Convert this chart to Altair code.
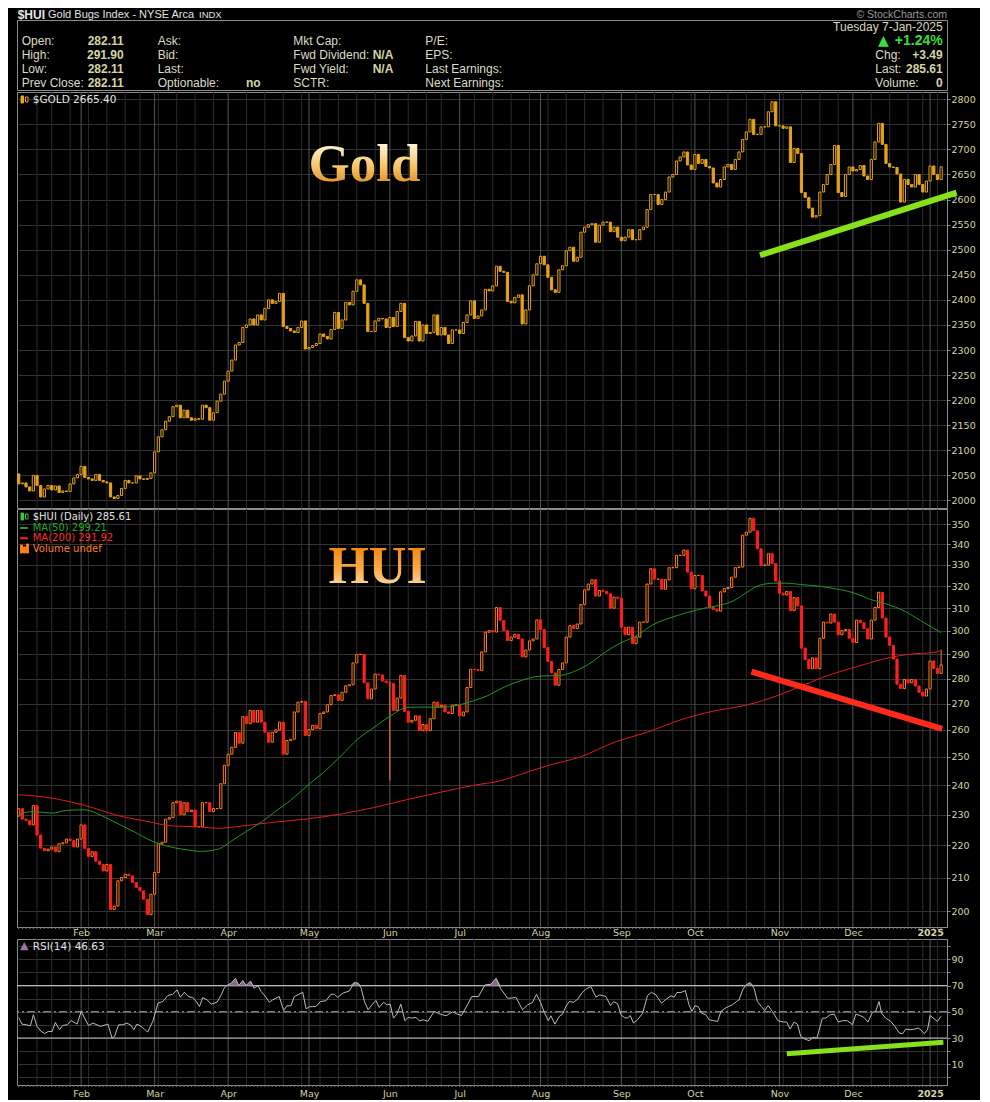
import altair as alt
import numpy as np
import pandas as pd

# ---------------------------------------------------------------- data
HOLIDAYS = ["2024-01-15", "2024-02-19", "2024-03-29", "2024-05-27", "2024-06-19",
            "2024-07-04", "2024-09-02", "2024-11-28", "2024-12-25", "2025-01-01"]
dates = pd.bdate_range("2024-01-08", "2025-01-07", freq="C", holidays=HOLIDAYS)

# $GOLD daily closes
g_jan = [2033, 2035, 2027, 2019, 2050, 2030, 2007, 2023, 2030, 2021, 2029, 2016, 2019, 2018, 2033, 2045, 2052]
g_feb = [2068, 2046, 2043, 2040, 2052, 2040, 2037, 2035, 2007, 2004, 2010, 2024, 2040, 2035, 2035, 2049, 2043, 2042, 2044, 2055]
g_mar = [2097, 2127, 2141, 2158, 2167, 2187, 2190, 2165, 2180, 2165, 2160, 2163, 2162, 2190, 2185, 2160, 2175, 2198, 2212, 2238]
g_apr = [2258, 2280, 2310, 2315, 2345, 2350, 2362, 2350, 2370, 2360, 2383, 2400, 2393, 2397, 2413, 2347, 2343, 2338, 2335, 2345, 2358, 2302]
g_may = [2305, 2309, 2313, 2332, 2327, 2322, 2341, 2375, 2343, 2360, 2395, 2390, 2417, 2440, 2430, 2393, 2337, 2337, 2358, 2363, 2362, 2345]
g_jun = [2365, 2347, 2377, 2393, 2325, 2318, 2328, 2357, 2318, 2350, 2333, 2335, 2370, 2330, 2345, 2330, 2313, 2340, 2340]
g_jul = [2333, 2355, 2370, 2398, 2363, 2368, 2380, 2421, 2418, 2428, 2467, 2457, 2455, 2397, 2394, 2405, 2410, 2352, 2380, 2428, 2450, 2472]
g_aug = [2487, 2470, 2445, 2420, 2415, 2460, 2468, 2498, 2505, 2477, 2485, 2535, 2545, 2550, 2552, 2515, 2549, 2555, 2555, 2536, 2545, 2525]
g_sep = [2518, 2525, 2540, 2520, 2520, 2540, 2545, 2580, 2610, 2610, 2590, 2600, 2615, 2645, 2650, 2677, 2685, 2695, 2669, 2660]
g_oct = [2690, 2672, 2680, 2666, 2663, 2633, 2625, 2640, 2665, 2670, 2660, 2680, 2695, 2720, 2735, 2760, 2730, 2730, 2745, 2745, 2775, 2795, 2747]
g_nov = [2747, 2742, 2745, 2674, 2702, 2692, 2614, 2604, 2583, 2565, 2568, 2615, 2630, 2650, 2670, 2708, 2614, 2606, 2650, 2665]
g_dec = [2657, 2660, 2668, 2647, 2640, 2680, 2715, 2752, 2710, 2672, 2665, 2664, 2651, 2595, 2640, 2630, 2625, 2650, 2630, 2615, 2637]
g_jan25 = [2667, 2650, 2640, 2665.40]
gold_open_first = 2053

# $HUI daily closes
h_jan = [232, 228.5, 228, 226.6, 233, 223.3, 219.1, 218.3, 218.8, 219.5, 218, 220.5, 220.8, 222, 221.5, 219.5, 222]
h_feb = [226.6, 219, 216.5, 218, 215, 214, 212, 214, 200.5, 201.5, 209, 210, 211, 210.5, 208.5, 207, 206, 203.5, 199, 205]
h_mar = [211.5, 220.5, 221, 228.5, 229, 234, 234.5, 230, 234, 231, 231.5, 226, 226, 234, 234, 231, 232, 232, 240.5, 247]
h_apr = [251, 253.5, 259, 255, 265, 262.3, 267.4, 262.9, 267.4, 262.9, 259.1, 255.4, 259.1, 260, 262.9, 251, 256, 256.5, 266.8, 270.6, 270.9, 257.9]
h_may = [260.1, 261.7, 260.4, 266.2, 266.8, 269.6, 273.2, 273.5, 271.3, 274.5, 277.1, 277.5, 286.4, 289.9, 290, 278.3, 271.9, 275.8, 281.8, 281.5, 279, 278.3]
h_jun = [278, 267.4, 272.2, 281.3, 267, 262.9, 263.6, 265.3, 259.7, 262, 259.7, 264.2, 270.6, 268.7, 269.4, 266.8, 266.2, 269.4, 269.6]
h_jul = [265.3, 266.8, 276.4, 283.8, 283.6, 283.3, 291, 299.4, 300.1, 299.5, 310.3, 304.5, 300.1, 295.8, 297.3, 298.5, 296.5, 288.9, 291.8, 295.7, 296.5, 304.8]
h_aug = [300.6, 292.8, 287, 282.3, 277.3, 283.7, 286.4, 297.3, 302.3, 301, 303, 311.7, 318.3, 321, 323, 315.5, 318, 317.6, 316.5, 310, 315, 314.5]
h_sep = [301.6, 298.3, 301.6, 294.6, 297.3, 303.8, 303.8, 321, 328.2, 323.3, 323.3, 318.6, 323, 328.7, 328.7, 334.6, 334.6, 337.2, 326.6, 318.9]
h_oct = [325, 325, 317.8, 315.5, 310.3, 309.5, 308.7, 317.4, 318.9, 319.4, 324.2, 328.7, 329, 344.5, 346, 353, 346.7, 337.8, 329.8, 330, 335.4, 330.6, 322.4]
h_nov = [316.8, 316, 317.6, 308.9, 314.8, 311, 292.6, 287.8, 284, 288.5, 284, 296.8, 303.8, 303.4, 307.4, 303.8, 298.3, 300.1, 300.6, 296.8]
h_dec = [295, 304.7, 303.5, 300.9, 296.5, 304.7, 310.3, 317.2, 305.6, 297.3, 293.8, 288, 277.7, 276, 279.6, 278.3, 279.6, 277, 274.5, 273, 275.8]
h_jan25 = [287.2, 284.1, 282.11, 285.61]
hui_open_first = 229.5
hui_wick_i = [101, 251]
hui_wick_lo = [241.6, 282.11]
hui_wick_hi = [279.0, 291.90]

# moving averages (trading-day index, value)
ma50_i = [0, 4, 9, 13, 18, 22.5, 27, 31.5, 36, 40.6, 45, 49.7, 54, 58.7, 62, 66, 69.6, 74, 78.7, 83, 87.7, 92.3,
          96.8, 101.4, 105.9, 110, 115, 119.5, 124, 127.7, 131, 135, 142, 147.5, 151, 155, 160, 164, 167.5, 173,
          176.6, 182, 187.4, 191, 194.6, 198.3, 201.9, 205.5, 209, 212.8, 218.2, 222.7, 227.3, 231.8, 236.3,
          240.9, 245.4, 251]
ma50_v = [230.2, 231, 230.5, 231.4, 231.6, 229.7, 227, 224.3, 221.5, 219.7, 218.7, 218.1, 218.7, 222, 224.5, 227.5,
          230.8, 234.8, 240, 244.5, 250.4, 256.6, 261, 265.5, 268.6, 268.7, 268.6, 269.4, 271.3, 273.2, 275.8, 278.3,
          281, 281.3, 282.8, 285.8, 291.3, 295, 297.3, 303, 305.3, 308.1, 310.3, 311.4, 313.4, 317.4, 320.6, 321.4,
          321.4, 320.8, 319.9, 318.7, 316.9, 313.9, 311.8, 308.8, 304.5, 299.21]
ma200_i = [0, 8.8, 17.9, 27, 36, 40.6, 49.7, 54.2, 60.5, 69.6, 78.7, 87.7, 96.8, 105.9, 115, 124, 131, 135, 144,
           153, 162, 171, 180.2, 189.2, 196.5, 204.6, 211.9, 220.9, 229.1, 236.3, 241.8, 249.9, 251]
ma200_v = [236.7, 235.6, 233.1, 229.7, 227.5, 226.4, 225.9, 225.5, 226.2, 227.5, 228.6, 230.2, 232.4, 235.1, 237.6,
           240.0, 241.5, 243.1, 246.9, 250.1, 255.3, 259.1, 263.8, 267.2, 269.0, 272.2, 276.4, 281.6, 285.3, 288.4,
           289.9, 291.0, 291.92]

# RSI(14) (trading-day index, value)
rsi_i = [0, 0.9, 2, 3.2, 4, 5, 6.1, 7, 8.1, 9.1, 10, 11.1, 12, 13.2, 14.3, 15.9, 17, 19, 20.2, 22.3, 24.3, 25.4,
         26.1, 27.2, 28.3, 29.5, 30.6, 31.3, 32.2, 33.3, 34.2, 35.1, 36.5, 37.9, 39.2, 40.6, 41.9, 43.1, 44, 45.1,
         46.3, 47.4, 48.3, 49.2, 50.1, 51.3, 52.4, 54, 55.1, 56, 56.9, 57.8, 59, 59.9, 61, 61.9, 63.1, 64, 65.1, 66,
         67.3, 68.2, 69.1, 70.9, 72.1, 73, 74.1, 75, 77.3, 78.2, 79.1, 80, 80.9, 82.1, 83.6, 85, 85.9, 86.8, 88.2,
         90, 91.3, 92.4, 93.2, 94.1, 95.1, 96.1, 97.2, 98.1, 99.3, 100.2, 101.1, 102, 102.9, 104, 105.1, 106,
         106.9, 108.1, 109, 110.2, 111.3, 113.1, 114.7, 116.3, 118.1, 119.4, 120.5, 122.2, 123.3, 125.1, 126.9,
         128.5, 129.9, 131.2, 133, 134.1, 135.3, 137.1, 138.5, 139.8, 140.9, 142.1, 143, 144.1, 144.8, 145.9,
         147.1, 148, 148.9, 149.8, 151, 152.1, 153.2, 154.3, 155.7, 157.1, 158, 158.9, 159.8, 161, 161.9, 163,
         163.9, 164.8, 165.7, 166.4, 167.3, 168.4, 169.8, 171.1, 172.2, 173.4, 174.9, 176.3, 177.5, 178.4, 179.1,
         180.2, 181.4, 182.4, 183.2, 184, 184.9, 185.8, 187, 187.9, 189.1, 190.2, 191.1, 192, 193.1, 194.2, 195.3,
         196, 197, 197.9, 199, 200.1, 201, 202.1, 203, 203.9, 205.1, 206.6, 208.1, 209, 209.9, 211, 211.9, 212.8,
         213.9, 215.1, 216.2, 217.2, 218.7, 219.6, 220.8, 221.9, 223, 224.1, 225.5, 226.9, 227.8, 229.1, 230,
         231.1, 232.3, 233.2, 234.1, 234.8, 235.9, 237.3, 238.4, 239.6, 240.5, 241.4, 242.6, 243.8, 244.7, 245.5,
         246.4, 247.3, 248, 249.1, 250, 251]
rsi_v = [45.7, 40.6, 40.1, 39.4, 47.7, 38.9, 35.1, 33.5, 35, 35, 41.9, 36.3, 39.6, 40.1, 43.4, 40.6, 50.3, 39.6,
         41.4, 38.9, 40.6, 30, 31.3, 40.1, 40.1, 41.4, 39.6, 36.3, 40.6, 38.9, 36.8, 34.6, 42.7, 56.6, 57.8, 62.4,
         63.4, 66.7, 61.1, 64.9, 61.4, 60.9, 57.8, 54, 60.9, 59.1, 55.8, 57.3, 62.9, 68.5, 70.5, 71.8, 75.6, 70,
         73.8, 70, 73.5, 68, 70, 65.4, 61.1, 57.3, 59.1, 61.6, 51, 54.6, 54.6, 61.6, 64.9, 52.3, 53.8, 54, 54, 57.8,
         58.4, 63.4, 63.4, 60.9, 64.2, 65.9, 72.3, 71.8, 68, 57.8, 51.5, 55.3, 58.6, 53.3, 57.3, 55.3, 55.8, 45.2,
         48.2, 55.8, 43.2, 45.7, 45.2, 45.7, 43.2, 43.9, 42.7, 50.3, 48.2, 47, 50, 48.2, 47.2, 55.8, 61.6, 61.6,
         70.5, 71, 75.6, 67.5, 60.4, 60.4, 61.1, 51.5, 55.3, 57.1, 63.4, 56.6, 49.7, 43.2, 47, 40.6, 46.5, 48.2,
         54, 57.8, 57.3, 59.6, 64.2, 67.2, 69.2, 61.1, 62.9, 62.4, 61.6, 54.8, 57.8, 56.1, 47.7, 45.7, 45.2, 47.2,
         41.4, 43.9, 49, 62.4, 64.9, 62.9, 56.6, 59.9, 62.2, 61.1, 64.7, 64.7, 66.2, 55.3, 50.3, 54.6, 54, 49,
         47.7, 43.9, 43.2, 42.7, 50.3, 52.3, 54, 55.3, 57.8, 59.1, 66.7, 70.5, 72.3, 68, 57.8, 54, 51, 54.8, 50.3,
         43.2, 42.2, 42.2, 36.8, 42.2, 40.6, 31.3, 29.2, 28, 30.5, 30, 45.2, 45.2, 47.7, 48.2, 42.2, 43.2, 43.2,
         40.1, 48.2, 47, 45.7, 42.2, 49.7, 50.3, 57.8, 49, 45.2, 42.7, 38.9, 33.8, 33.3, 36.8, 36.3, 36.8, 37.6,
         36.3, 33.3, 36.3, 47.2, 44.7, 42.7, 46.63]

# annotation trend lines (index, value) endpoints
gold_trend = {"x": [201.7], "x2": [255.2], "y": [2489], "y2": [2614]}
hui_trend = {"x": [199.4], "x2": [251.3], "y": [282.8], "y2": [260.4]}
rsi_trend = {"x": [209.0], "x2": [251.6], "y": [18.1], "y2": [26.7]}

month_labels = ["Feb", "Mar", "Apr", "May", "Jun", "Jul", "Aug", "Sep", "Oct", "Nov", "Dec", "2025"]
gold_ticks = list(range(2000, 2801, 50))
hui_ticks = list(range(200, 351, 10))
rsi_grid = list(range(0, 101, 10))

# ---------------------------------------------------------------- prep
gold_close = g_jan + g_feb + g_mar + g_apr + g_may + g_jun + g_jul + g_aug + g_sep + g_oct + g_nov + g_dec + g_jan25
hui_close = h_jan + h_feb + h_mar + h_apr + h_may + h_jun + h_jul + h_aug + h_sep + h_oct + h_nov + h_dec + h_jan25
N = len(dates)
if len(gold_close) != N or len(hui_close) != N:
    raise SystemExit(f"length mismatch {N} {len(gold_close)} {len(hui_close)}")
idx = np.arange(N)
month_idx = [i for i in range(1, N) if dates[i].month != dates[i - 1].month]
week_idx = [i for i in range(1, N)
            if dates[i].isocalendar()[1] != dates[i - 1].isocalendar()[1] and i not in month_idx]


def candles(close, open0):
    c = np.array(close, dtype=float)
    o = np.concatenate([[open0], c[:-1]])
    df = pd.DataFrame({"i": idx, "o": o, "c": c})
    df["lo"] = np.minimum(o, c)
    df["hi"] = np.maximum(o, c)
    df["x1"] = idx - 0.3
    df["x2"] = idx + 0.3
    df["up"] = c >= o
    return df


gdf = candles(gold_close, gold_open_first)
hdf = candles(hui_close, hui_open_first)
week_df = pd.DataFrame({"i": week_idx})
month_df = pd.DataFrame({"i": month_idx})
tick_df = pd.DataFrame({"i": idx})
ma50 = pd.DataFrame({"i": ma50_i, "v": ma50_v})
ma200 = pd.DataFrame({"i": ma200_i, "v": ma200_v})
rsi = pd.DataFrame({"i": rsi_i, "v": rsi_v})
rsi["top"] = np.maximum(rsi["v"], 70)
rsi["base"] = 70.0
wick = pd.DataFrame({"i": hui_wick_i, "lo": hui_wick_lo, "hi": hui_wick_hi})
dummy = pd.DataFrame({"d": [0]})

# ---------------------------------------------------------------- styles
W, HG, HH, HR, HB = 930, 416, 418, 146, 70
BG = "#000000"
GOLDC = "#e6a31c"
UPC = "#ff7c1a"
DNC = "#ff1f1f"
LBL = "#d4d4a4"
WEEKC = "#2c2c2c"
MONC = "#555555"

xs = alt.Scale(domain=[-0.45, 252.6], nice=False, zero=False)
gys = alt.Scale(domain=[1985.0, 2814.5], nice=False, zero=False)
hys = alt.Scale(type="log", domain=[195.5, 357.8], nice=False, zero=False)
rys = alt.Scale(domain=[-5.8, 105.5], nice=False, zero=False)

label_expr = " : ".join(f"datum.value == {i} ? '{n}'" for i, n in zip(month_idx, month_labels)) + " : ''"


def month_axis(pad):
    return alt.Axis(values=month_idx, labelExpr=label_expr, grid=False, ticks=False, domain=False,
                    labelPadding=pad, labelFlush=False, labelOverlap=False,
                    labelFontWeight={"condition": {"test": f"datum.value == {month_idx[-1]}", "value": "bold"},
                                     "value": "normal"})


yaxis_common = dict(orient="right", grid=True, ticks=True, tickSize=3, labelPadding=1,
                    labelOverlap=False, labelFlush=False, domain=True)
g_axis = alt.Axis(values=gold_ticks, format="d", **yaxis_common)
h_axis = alt.Axis(values=hui_ticks, format="d", **yaxis_common)
r_axis = alt.Axis(values=rsi_grid, format="d", labelExpr="datum.value % 20 == 10 ? datum.label : ''",
                  **yaxis_common)


def mkx(axis):
    return lambda f: alt.X(f, scale=xs, axis=axis, title=None)


def mky(scale, axis):
    return lambda f: alt.Y(f, scale=scale, axis=axis, title=None)


def txt(s, x, y, size=12, color="#dcdcc4", weight="normal", align="left", font="Liberation Sans",
        baseline="middle"):
    return alt.Chart(dummy).mark_text(text=s, align=align, baseline=baseline, font=font, fontSize=size,
                                      fontWeight=weight, color=color).encode(x=alt.value(x), y=alt.value(y))


def vlines(X):
    return [alt.Chart(week_df).mark_rule(color=WEEKC, strokeWidth=1).encode(x=X("i:Q")),
            alt.Chart(month_df).mark_rule(color=MONC, strokeWidth=1).encode(x=X("i:Q"))]


def candle_layers(df, X, Y, upc, dnc):
    return [
        alt.Chart(df[df["up"]]).mark_rect(fill=BG, stroke=upc, strokeWidth=1).encode(
            x=X("x1:Q"), x2="x2:Q", y=Y("lo:Q"), y2="hi:Q"),
        alt.Chart(df[~df["up"]]).mark_rect(fill=dnc, stroke=dnc, strokeWidth=1).encode(
            x=X("x1:Q"), x2="x2:Q", y=Y("lo:Q"), y2="hi:Q"),
    ]


def icon_rect(x1, x2, y1, y2, color, filled=True):
    return alt.Chart(dummy).mark_rect(fill=color if filled else BG, stroke=color, strokeWidth=1).encode(
        x=alt.value(x1), x2=alt.value(x2), y=alt.value(y1), y2=alt.value(y2))


def legend_line(y, color):
    return alt.Chart(dummy).mark_rule(color=color, strokeWidth=2).encode(
        x=alt.value(3), x2=alt.value(11), y=alt.value(y))


# ---------------------------------------------------------------- header
TY = -5.3
hdr = [
    txt("$HUI", 0.7, TY, size=12, weight="bold", color="#e6e6e6"),
    txt("Gold Bugs Index - NYSE Arca", 31, TY, size=11, color="#e2e2e2"),
    txt("INDX", 182, TY, size=9.5, color="#e2e2e2"),
    txt("\u00a9 StockCharts.com", 930, TY, size=10.5, color="#9a9a9a", align="right"),
]
rows_y = [20.8, 35.0, 49.0, 62.5]
for lab, y in zip(["Open:", "High:", "Low:", "Prev Close:"], rows_y):
    hdr.append(txt(lab, 4.7, y))
for val, y in zip(["282.11", "291.90", "282.11", "282.11"], rows_y):
    hdr.append(txt(val, 106.7, y, weight="bold", color=LBL, align="right"))
for lab, y in zip(["Ask:", "Bid:", "Last:", "Optionable:"], rows_y):
    hdr.append(txt(lab, 140.7, y))
hdr.append(txt("no", 229, rows_y[3], weight="bold", color=LBL))
for lab, y in zip(["Mkt Cap:", "Fwd Dividend:", "Fwd Yield:", "SCTR:"], rows_y):
    hdr.append(txt(lab, 276.3, y))
hdr.append(txt("N/A", 355.7, rows_y[1], weight="bold", color=LBL))
hdr.append(txt("N/A", 355.7, rows_y[2], weight="bold", color=LBL))
for lab, y in zip(["P/E:", "EPS:", "Last Earnings:", "Next Earnings:"], rows_y):
    hdr.append(txt(lab, 408.3, y))
hdr.append(txt("Tuesday  7-Jan-2025", 925.7, 6.8, color="#d8d8b8", align="right"))
hdr.append(txt("\u25b2", 866.5, rows_y[0], size=14, color="#3ddc3d", align="center", font="DejaVu Sans"))
hdr.append(txt("+1.24%", 925.7, rows_y[0], size=14, weight="bold", color="#3ddc3d", align="right"))
for lab, y in zip(["Chg:", "Last:", "Volume:"], rows_y[1:]):
    hdr.append(txt(lab, 858.3, y))
for val, y in zip(["+3.49", "285.61", "0"], rows_y[1:]):
    hdr.append(txt(val, 925.7, y, weight="bold", color=LBL, align="right"))
header = alt.layer(*hdr).properties(width=W, height=HB)

# ---------------------------------------------------------------- gold panel
GX = mkx(None)
GY = mky(gys, g_axis)
gold_grad = alt.LinearGradient(gradient="linear", x1=0, x2=0, y1=0, y2=1, stops=[
    alt.GradientStop(color="#fff6dc", offset=0.15), alt.GradientStop(color="#f6c66a", offset=0.55),
    alt.GradientStop(color="#dc8a1c", offset=0.9)])
gold_layers = vlines(GX) + candle_layers(gdf, GX, GY, GOLDC, GOLDC) + [
    alt.Chart(pd.DataFrame(gold_trend)).mark_rule(color="#86e01c", strokeWidth=6, strokeCap="butt").encode(
        x=GX("x:Q"), x2="x2:Q", y=GY("y:Q"), y2="y2:Q"),
    alt.Chart(dummy).mark_text(text="Gold", font="Liberation Serif", fontSize=53, fontWeight="bold",
                               fill=gold_grad, align="center", baseline="alphabetic").encode(
        x=alt.value(347.5), y=alt.value(89)),
    icon_rect(4, 6.5, 4, 11, GOLDC), icon_rect(8.5, 11, 5, 10, GOLDC, filled=False),
    txt("$GOLD 2665.40", 15.7, 7.7, size=10.5, color="#e4e4e4", font="DejaVu Sans"),
]
gold = alt.layer(*gold_layers).properties(width=W, height=HG)

# ---------------------------------------------------------------- HUI panel
HX = mkx(month_axis(0))
HY = mky(hys, h_axis)
hui_grad = alt.LinearGradient(gradient="linear", x1=0, x2=0, y1=0, y2=1, stops=[
    alt.GradientStop(color="#f58a12", offset=0.2), alt.GradientStop(color="#f9a845", offset=0.55),
    alt.GradientStop(color="#fdd59a", offset=0.85)])
hui_layers = vlines(HX) + [
    alt.Chart(tick_df).mark_rule(color="#777777", strokeWidth=1).encode(
        x=HX("i:Q"), y=alt.value(HH), y2=alt.value(HH + 2)),
    alt.Chart(wick).mark_rule(color=UPC, strokeWidth=1).encode(x=HX("i:Q"), y=HY("lo:Q"), y2="hi:Q"),
] + candle_layers(hdf, HX, HY, UPC, DNC) + [
    alt.Chart(ma200).mark_line(color="#e01c1c", strokeWidth=1, interpolate="monotone").encode(
        x=HX("i:Q"), y=HY("v:Q")),
    alt.Chart(ma50).mark_line(color="#1c9a1c", strokeWidth=1, interpolate="monotone").encode(
        x=HX("i:Q"), y=HY("v:Q")),
    alt.Chart(pd.DataFrame(hui_trend)).mark_rule(color="#ff2a1a", strokeWidth=6, strokeCap="butt").encode(
        x=HX("x:Q"), x2="x2:Q", y=HY("y:Q"), y2="y2:Q"),
    alt.Chart(dummy).mark_text(text="HUI", font="Liberation Serif", fontSize=52, fontWeight="bold",
                               fill=hui_grad, align="center", baseline="alphabetic").encode(
        x=alt.value(360.5), y=alt.value(74)),
    icon_rect(4, 6.5, 4, 11, "#3cc43c"), icon_rect(8.5, 11, 5, 10, "#3cc43c", filled=False),
    txt("$HUI (Daily) 285.61", 15.7, 7.7, size=10, color="#e0e0e0", font="DejaVu Sans"),
    legend_line(19, "#1fa01f"),
    txt("MA(50) 299.21", 15.7, 19, size=10, color="#22a822", font="DejaVu Sans"),
    legend_line(29.3, "#ff2020"),
    txt("MA(200) 291.92", 15.7, 29.3, size=10, color="#ff2a2a", font="DejaVu Sans"),
    icon_rect(3.5, 5.5, 36, 44, "#ff7a1a"), icon_rect(6.5, 8.5, 38, 44, "#ff7a1a"),
    icon_rect(9.5, 11.5, 35, 44, "#ff7a1a"),
    txt("Volume undef", 15.7, 39.7, size=10, color="#ff7a2a", font="DejaVu Sans"),
]
hui = alt.layer(*hui_layers).properties(width=W, height=HH)

# ---------------------------------------------------------------- RSI panel
RX = mkx(month_axis(3))
RY = mky(rys, r_axis)
rsi_layers = vlines(RX) + [
    alt.Chart(tick_df).mark_rule(color="#777777", strokeWidth=1).encode(
        x=RX("i:Q"), y=alt.value(HR), y2=alt.value(HR + 2)),
    alt.Chart(pd.DataFrame({"lv": [70, 30]})).mark_rule(color="#c8c8c8", strokeWidth=1).encode(y=RY("lv:Q")),
    alt.Chart(pd.DataFrame({"lv": [50]})).mark_rule(color="#b4b4b4", strokeWidth=1,
                                                   strokeDash=[8, 3, 2, 3]).encode(y=RY("lv:Q")),
    alt.Chart(rsi).mark_area(color="#8a668a").encode(x=RX("i:Q"), y=RY("top:Q"), y2="base:Q"),
    alt.Chart(rsi).mark_line(color="#bcbcbc", strokeWidth=1).encode(x=RX("i:Q"), y=RY("v:Q")),
    alt.Chart(pd.DataFrame(rsi_trend)).mark_rule(color="#86e01c", strokeWidth=5, strokeCap="butt").encode(
        x=RX("x:Q"), x2="x2:Q", y=RY("y:Q"), y2="y2:Q"),
    txt("\u25b2", 7.3, 7.2, size=11, color="#9a789a", align="center", font="DejaVu Sans"),
    txt("RSI(14) 46.63", 15.7, 7.7, size=10.5, color="#e0e0e0", font="DejaVu Sans"),
]
rsi_chart = alt.layer(*rsi_layers).properties(width=W, height=HR)

# ---------------------------------------------------------------- assemble
upper = alt.vconcat(header, gold, spacing=0)
mid = alt.vconcat(upper, hui, spacing=-2.5)
chart = alt.vconcat(mid, rsi_chart, spacing=1).properties(
    padding={"left": 8, "top": 0, "right": 4, "bottom": 2}
).configure(background=BG).configure_view(stroke="#8c8c8c", strokeWidth=1).configure_axis(
    labelColor=LBL, labelFont="DejaVu Sans", labelFontSize=9.5, domainColor="#8c8c8c", tickColor="#8c8c8c",
    gridColor="#333333", gridWidth=1)

chart.save("out.html", embed_options={"renderer": "svg", "actions": False})
